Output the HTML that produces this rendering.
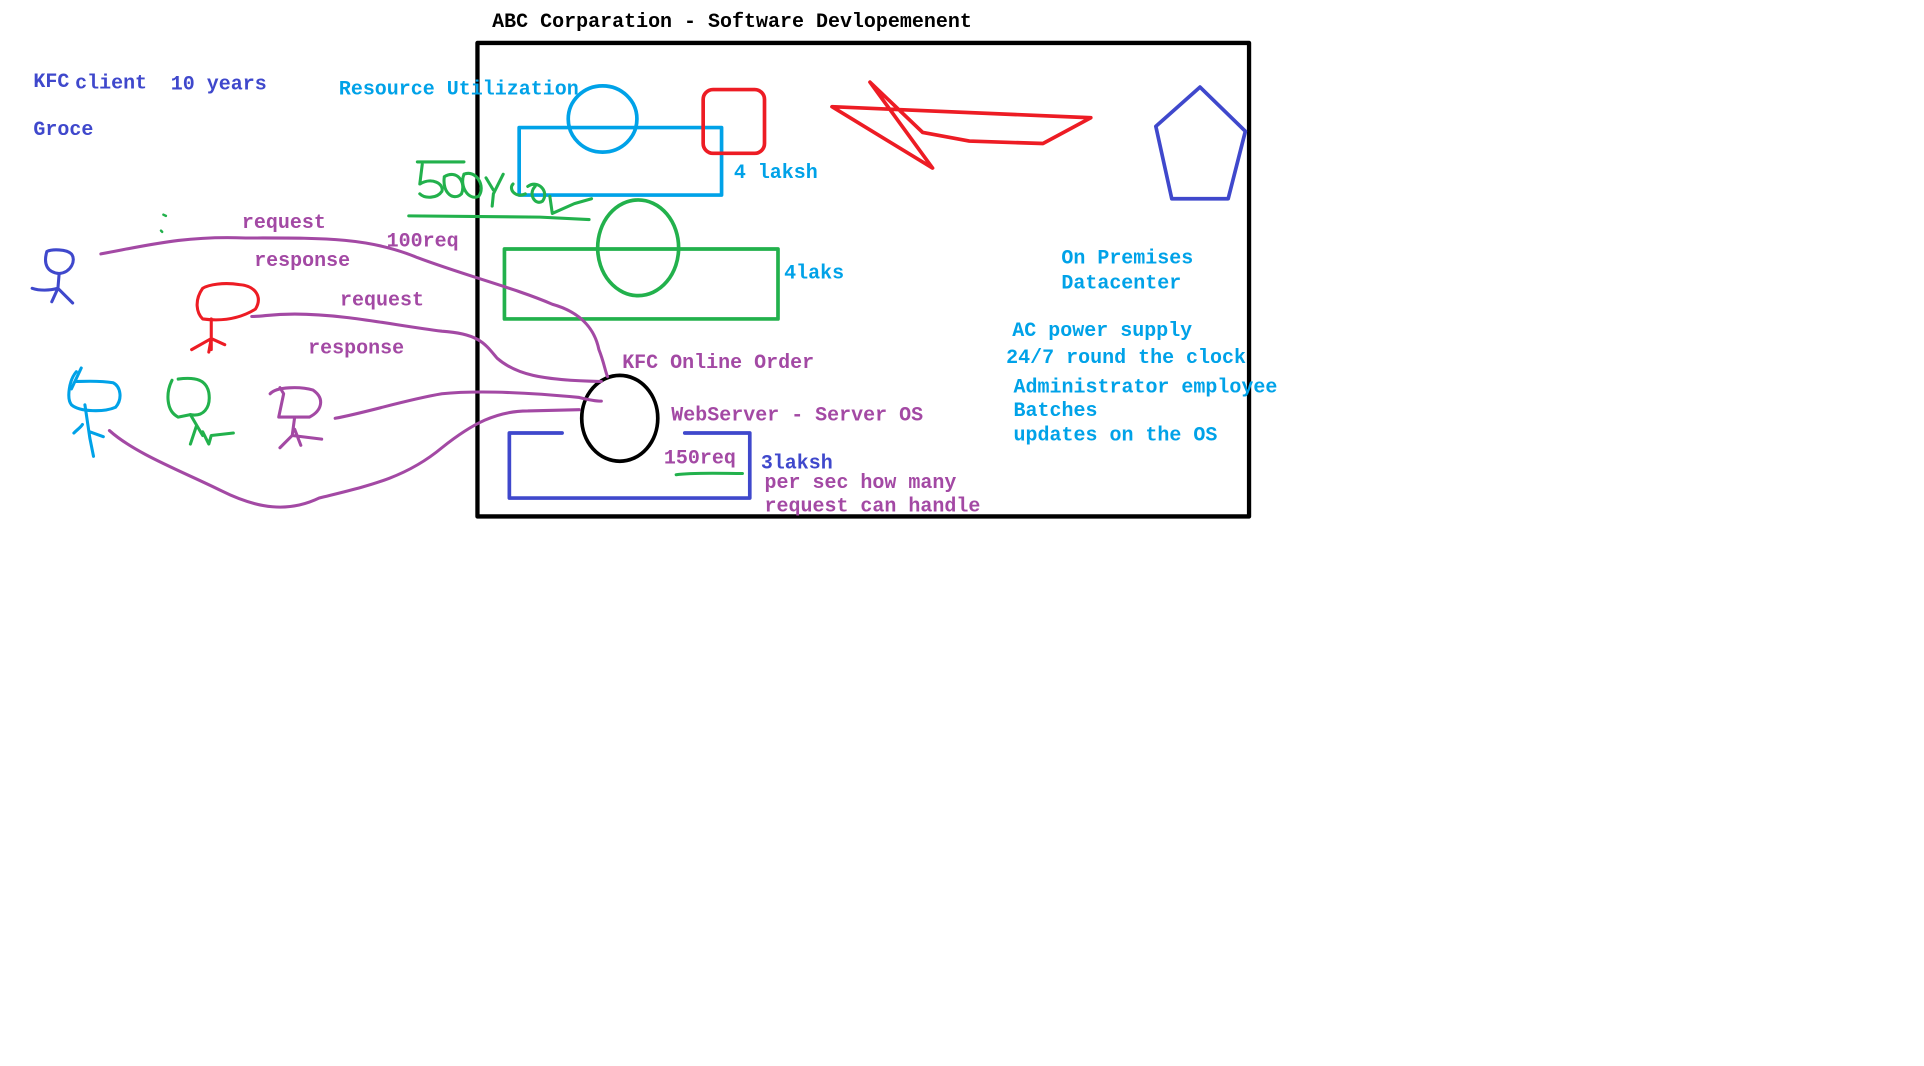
<!DOCTYPE html>
<html><head><meta charset="utf-8"><style>
html,body{margin:0;padding:0;background:#fff;}
svg{display:block;}
text{font-family:"Liberation Mono","DejaVu Sans Mono",monospace;font-weight:bold;font-size:16.3px;}
</style></head><body>
<svg width="1924" height="1066" viewBox="0 0 1568 869" xmlns="http://www.w3.org/2000/svg" fill="none" stroke-linecap="round" stroke-linejoin="round">
<rect x="389" y="35" width="629" height="386" stroke="#000" stroke-width="3.5"/>
<text x="401" y="22" fill="#000" stroke="none">ABC Corparation - Software Devlopemenent</text>

<text x="27" y="71" fill="#3f48cc" stroke="none">KFC</text>
<text x="61" y="72" fill="#3f48cc" stroke="none">client</text>
<text x="139" y="73" fill="#3f48cc" stroke="none">10 years</text>
<text x="27" y="110" fill="#3f48cc" stroke="none">Groce</text>
<text x="276" y="77" fill="#00a2e8" stroke="none">Resource Utilization</text>

<ellipse cx="491" cy="97" rx="28" ry="27" stroke="#00a2e8" stroke-width="3"/>
<rect x="423" y="104" width="165" height="55" stroke="#00a2e8" stroke-width="3"/>
<text x="598" y="145" fill="#00a2e8" stroke="none">4 laksh</text>
<rect x="573" y="73" width="50" height="52" rx="8" stroke="#ed1c24" stroke-width="3"/>
<path d="M709,67 L760,137 L678,87 L889,96 L850,117 L790,115 L752,108 L709,67" stroke="#ed1c24" stroke-width="3"/>
<path d="M978,71 L1015,107 L1001,162 L955,162 L942,103 Z" stroke="#3f48cc" stroke-width="3"/>

<ellipse cx="520" cy="202" rx="33" ry="39" stroke="#22b14c" stroke-width="3"/>
<rect x="411" y="203" width="223" height="57" stroke="#22b14c" stroke-width="3"/>
<text x="639" y="227" fill="#00a2e8" stroke="none">4laks</text>
<path d="M340,132 L378,132 M344,134 L342,150 C352,144 362,150 360,156 C356,162 346,162 342,158 M362,144 C372,138 380,148 376,158 C370,164 360,158 362,144 M378,142 C388,138 396,152 390,160 C382,164 374,152 378,142 M396,145 L402,155 M410,142 L402,158 L401,168 M418,150 C414,154 420,162 428,158 M430,152 C438,146 448,156 442,164 C436,168 430,158 436,152 M448,160 L450,174 L468,166 L482,162 M333,176 L440,177 L480,179" stroke="#22b14c" stroke-width="2.5"/>
<path d="M133,175 L135,176 M131,188 L132,189" stroke="#22b14c" stroke-width="2"/>

<text x="865" y="215" fill="#00a2e8" stroke="none">On Premises</text>
<text x="865" y="235" fill="#00a2e8" stroke="none">Datacenter</text>
<text x="825" y="274" fill="#00a2e8" stroke="none">AC power supply</text>
<text x="820" y="296" fill="#00a2e8" stroke="none">24/7 round the clock</text>
<text x="826" y="320" fill="#00a2e8" stroke="none">Administrator employee</text>
<text x="826" y="339" fill="#00a2e8" stroke="none">Batches</text>
<text x="826" y="359" fill="#00a2e8" stroke="none">updates on the OS</text>

<text x="507" y="300" fill="#a349a4" stroke="none">KFC Online Order</text>
<ellipse cx="505" cy="341" rx="31" ry="35" stroke="#000" stroke-width="3"/>
<text x="547" y="343" fill="#a349a4" stroke="none">WebServer - Server OS</text>
<path d="M458,353 L415,353 L415,406 L611,406 L611,353 L558,353" stroke="#3f48cc" stroke-width="3"/>
<text x="541" y="378" fill="#a349a4" stroke="none">150req</text>
<path d="M551,387 C565,385 590,386 605,386" stroke="#22b14c" stroke-width="2.5"/>
<text x="620" y="382" fill="#3f48cc" stroke="none">3laksh</text>
<text x="623" y="398" fill="#a349a4" stroke="none">per sec how many</text>
<text x="623" y="417" fill="#a349a4" stroke="none">request can handle</text>

<text x="197" y="186" fill="#a349a4" stroke="none">request</text>
<text x="207" y="217" fill="#a349a4" stroke="none">response</text>
<text x="315" y="201" fill="#a349a4" stroke="none">100req</text>
<text x="277" y="249" fill="#a349a4" stroke="none">request</text>
<text x="251" y="288" fill="#a349a4" stroke="none">response</text>
<g stroke="#a349a4" stroke-width="2.5">
<path d="M82,207 C120,200 150,192 200,194 C260,194 300,193 340,210 C380,225 420,235 450,248 C475,255 485,270 488,285 C492,295 493,302 495,307"/>
<path d="M205,258 C215,258 220,256 240,256 C280,256 320,265 360,270 C390,272 395,280 405,292 C420,305 440,310 490,311"/>
<path d="M273,341 C300,336 330,326 360,321 C390,318 430,320 472,324 C480,326 486,327 490,327"/>
<path d="M89,351 C110,370 150,385 180,400 C210,415 235,418 260,406 C300,396 330,390 360,365 C385,345 405,335 430,335 L472,334"/>
</g>

<g stroke="#3f48cc" stroke-width="2.5">
<path d="M38,205 C35,215 38,222 48,223 C58,222 62,212 58,207 C54,203 42,203 38,205 Z"/>
<path d="M48,223 L47,235 L42,246 M47,235 L59,247 M26,235 C32,237 40,237 47,235"/>
</g>
<g stroke="#ed1c24" stroke-width="2.5">
<path d="M165,235 C158,245 160,255 165,260 C180,262 195,260 208,252 C214,242 208,233 195,232 C182,230 170,232 165,235 Z"/>
<path d="M172,260 L172,285 M156,285 L172,276 L183,281 M172,276 L170,287"/>
</g>
<g stroke="#00a2e8" stroke-width="2.5">
<path d="M62,303 C56,310 54,325 58,330 C65,336 85,336 94,332 C100,325 98,315 92,312 C80,310 65,311 62,311"/>
<path d="M69,330 L73,357 L76,372 M73,352 L84,356 M60,353 C63,350 66,348 67,346 M58,317 L66,300"/>
</g>
<g stroke="#22b14c" stroke-width="2.5">
<path d="M140,310 C135,320 135,335 145,340 L155,338 C165,340 172,333 170,320 C168,310 160,307 145,309"/>
<path d="M155,338 L165,355 M160,347 L155,362 M165,352 L170,362 L172,355 L190,353"/>
</g>
<g stroke="#a349a4" stroke-width="2.5">
<path d="M220,321 C225,315 245,315 255,318 C265,325 262,335 252,340 L227,340 L231,321 L228,316"/>
<path d="M240,340 L238,355 L228,365 M238,355 L262,358 M240,350 L245,363"/>
</g>
</svg>
</body></html>
